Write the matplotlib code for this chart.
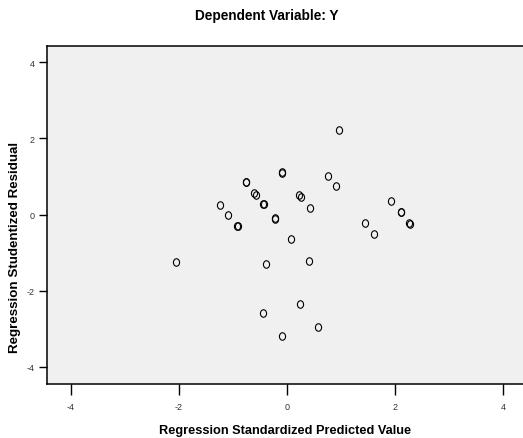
"""Scatterplot of studentized residuals vs standardized predicted values."""

import matplotlib

matplotlib.use("Agg")
import matplotlib.pyplot as plt
from matplotlib.path import Path
from matplotlib.transforms import Affine2D

plt.rcParams["font.family"] = ["Liberation Sans", "DejaVu Sans"]
plt.rcParams["axes.unicode_minus"] = False

TITLE = "Dependent Variable: Y"
X_LABEL = "Regression Standardized Predicted Value"
Y_LABEL = "Regression Studentized Residual"

# standardized predicted values (repeats = overlapping cases)
pred = [
    0.96, -0.10, -0.09, -0.76, -0.75, -0.61, -0.57, -0.44, -0.43,
    0.75, 0.91, 0.23, 0.26, 0.43, -1.24, -1.09, -0.92, -0.91,
    -0.23, -0.22, 0.07, -0.39, 0.41, 1.93, 2.10, 2.11, 2.26, 2.27,
    1.44, 1.61, -2.06, 0.24, -0.44, 0.57, -0.10,
]
# studentized residuals
resid = [
    2.23, 1.10, 1.11, 0.85, 0.86, 0.56, 0.51, 0.27, 0.28,
    1.02, 0.74, 0.51, 0.46, 0.18, 0.26, 0.00, -0.30, -0.31,
    -0.10, -0.11, -0.63, -1.29, -1.23, 0.36, 0.07, 0.06, -0.23, -0.24,
    -0.22, -0.52, -1.25, -2.35, -2.59, -2.94, -3.18,
]

ticks = [-4, -2, 0, 2, 4]

# slightly tall "O" shaped marker like the SPSS output
oval = Affine2D().scale(0.82, 1.0).transform_path(Path.unit_circle())

fig = plt.figure(figsize=(5.23, 4.39), dpi=100)
ax = fig.add_axes([47 / 523, 54 / 439, 480 / 523, 338 / 439])
ax.set_facecolor("#f0f0f0")

ax.plot(pred, resid, linestyle="none", marker=oval, markersize=5.4,
        markerfacecolor="none", markeredgecolor="black", markeredgewidth=0.8)

ax.set_xlim(-4.436, 4.436)
ax.set_ylim(-4.45, 4.43)
ax.set_xticks(ticks)
ax.set_yticks(ticks)
ax.tick_params(axis="x", direction="out", length=8, width=1, pad=5,
               labelsize=6.5, labelcolor="#333333")
ax.tick_params(axis="y", direction="out", length=6, width=1, pad=3,
               labelsize=6.5, labelcolor="#333333")
for side in ["left", "bottom", "top", "right"]:
    ax.spines[side].set_linewidth(1.1)

fig.text(267 / 523, 1 - 16 / 439, TITLE, ha="center", va="center",
         fontsize=9.8, fontweight="bold")
fig.text(285 / 523, 1 - 431 / 439, X_LABEL, ha="center", va="center",
         fontsize=9.2, fontweight="bold")
fig.text(15 / 523, 1 - 247 / 439, Y_LABEL, ha="center", va="center",
         rotation=90, fontsize=9.6, fontweight="bold")

fig.savefig("out.png", dpi=100)
